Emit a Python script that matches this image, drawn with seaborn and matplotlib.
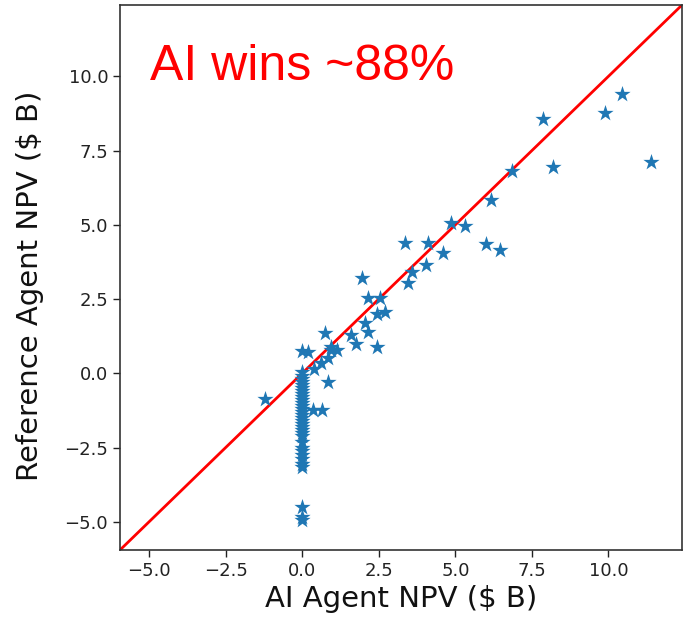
import matplotlib
matplotlib.use("Agg")
import matplotlib.pyplot as plt
import seaborn as sns
import pandas as pd

# AI agent NPV ($ B) vs reference agent NPV ($ B)
ai_npv = [10.45, 9.9, 7.85, 11.4, 8.2, 6.85, 6.15, 5.3, 4.85, 6.0, 6.45, 4.6,
          4.1, 3.35, 4.05, 3.6, 3.45, 1.95, 2.15, 2.55, 2.45, 2.7, 2.05, 2.15,
          1.6, 1.75, 2.45, 0.95, 1.15, 0.75, 0.0, 0.2, 0.95, 0.85, 0.6, 0.4,
          0.85, -1.2, 0.35, 0.65,
          0.0, 0.0, 0.0, 0.0, 0.0, 0.0, 0.0, 0.0, 0.0, 0.0, 0.0, 0.0, 0.0,
          0.0, 0.0, 0.0, 0.0, 0.0, 0.0, 0.0, 0.0, 0.0, 0.0, 0.0, 0.0, 0.0,
          0.0, 0.0, 0.0, 0.0, 0.0, 0.0]
ref_npv = [9.4, 8.75, 8.55, 7.1, 6.95, 6.8, 5.85, 4.95, 5.05, 4.35, 4.15, 4.05,
           4.4, 4.4, 3.65, 3.4, 3.05, 3.2, 2.55, 2.55, 2.0, 2.05, 1.7, 1.4,
           1.3, 1.0, 0.9, 0.8, 0.8, 1.35, 0.75, 0.7, 0.9, 0.5, 0.35, 0.15,
           -0.3, -0.85, -1.25, -1.25,
           0.05, -0.1, -0.2, -0.3, -0.4, -0.5, -0.6, -0.7, -0.8, -0.9, -1.0,
           -1.1, -1.2, -1.3, -1.4, -1.5, -1.6, -1.7, -1.8, -1.9, -2.0, -2.1,
           -2.3, -2.5, -2.6, -2.75, -2.9, -3.05, -3.15, -4.5, -4.85, -4.95]

annotation = "AI wins ~88%"
x_label = "AI Agent NPV ($ B)"
y_label = "Reference Agent NPV ($ B)"

df = pd.DataFrame({"ai": ai_npv, "ref": ref_npv})

fig = plt.figure(figsize=(6.83, 6.32), dpi=100)
ax = fig.add_axes([120 / 683, 82 / 632, 562 / 683, 545 / 632])

sns.scatterplot(data=df, x="ai", y="ref", marker="*", s=150,
                color="#1f77b4", linewidth=0, ax=ax, zorder=3)

lo = min(min(ai_npv), min(ref_npv)) - 1
hi = max(max(ai_npv), max(ref_npv)) + 1
ax.plot([lo, hi], [lo, hi], color="red", linewidth=2, zorder=2)
ax.set_xlim(lo, hi)
ax.set_ylim(lo, hi)

ax.set_xticks([-5.0, -2.5, 0.0, 2.5, 5.0, 7.5, 10.0])
ax.set_yticks([-5.0, -2.5, 0.0, 2.5, 5.0, 7.5, 10.0])
ax.tick_params(labelsize=13, length=5, width=1, colors="#222222")

ax.set_xlabel(x_label, fontsize=21, family="DejaVu Sans", labelpad=4,
              color="#111111")
ax.set_ylabel(y_label, fontsize=21, family="DejaVu Sans",
              color="#111111")
ax.yaxis.set_label_coords(-0.135, 0.485)

ax.text(0.053, 0.862, annotation, transform=ax.transAxes, color="red",
        fontsize=36, family=["Liberation Sans", "DejaVu Sans"], va="baseline")

for sp in ax.spines.values():
    sp.set_linewidth(1.2)
    sp.set_color("#333333")

fig.savefig("out.png", dpi=100)
